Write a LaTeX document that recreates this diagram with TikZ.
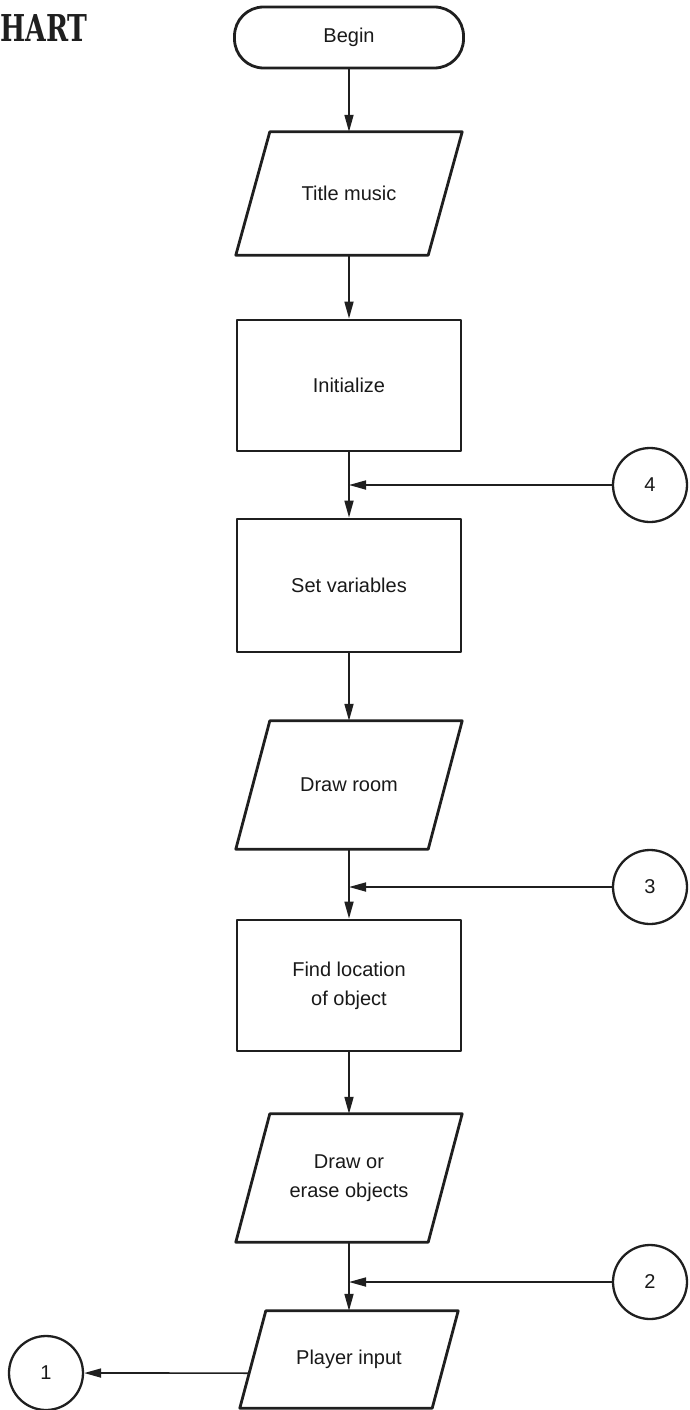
\documentclass[tikz,border=0pt]{standalone}
\usepackage{graphicx}
\usepackage{fontspec}
\setmainfont{Liberation Sans}
\newfontfamily\headfont{DejaVu Serif}
\usetikzlibrary{calc,arrows.meta}

% slanted input/output frame around an (undrawn) node: #1 node name, #2 half of the slant
\newcommand{\slantframe}[2]{%
  \coordinate (#1-tl) at ($(#1.north west)+(#2,0)$);
  \coordinate (#1-tr) at ($(#1.north east)+(#2,0)$);
  \coordinate (#1-br) at ($(#1.south east)+(-#2,0)$);
  \coordinate (#1-bl) at ($(#1.south west)+(-#2,0)$);
  \draw[boxline] (#1-tl) -- (#1-tr) -- (#1-br) -- (#1-bl) -- cycle;}

\begin{document}
\begin{tikzpicture}[x=1pt,y=-1pt,
  boxline/.style={draw=black!88, line width=2.8pt, line join=round},
  label/.style={font=\fontsize{20}{29}\selectfont, text=black!90, align=center, inner sep=0pt},
  procbox/.style={boxline, label, minimum width=224pt},
  iobox/.style={label, minimum width=192pt},
  termbox/.style={boxline, label, rounded corners=29pt, minimum width=229pt, minimum height=61pt},
  offpage/.style={draw=black!88, line width=2.3pt, circle, minimum size=74pt, inner sep=0pt,
    font=\fontsize{20}{24}\selectfont, text=black!90},
  flow/.style={draw=black!88, line width=1.7pt, -{Triangle[length=17pt,width=9pt]}},
]
\useasboundingbox (0,0) rectangle (690,1410);

% heading
\node[anchor=base west, inner sep=0pt, text=black!88] (head) at (0,42)
  {\headfont\fontsize{37}{37}\selectfont\scalebox{0.72}[1]{\bfseries HART}};

% main column
\node[termbox] (begin) at (349,37.5) {Begin};
\node[iobox, minimum height=123pt] (tm) at (349,193.5) {Title music};
\slantframe{tm}{17}
\node[procbox, minimum height=131pt] (init) at (349,385.5) {Initialize};
\node[procbox, minimum height=133pt] (setv) at (349,585.5) {Set variables};
\node[iobox, minimum height=128pt] (dr) at (349,785) {Draw room};
\slantframe{dr}{17}
\node[procbox, minimum height=131pt] (find) at (349,985.5) {Find location\\of object};
\node[iobox, minimum height=128pt] (de) at (349,1178) {Draw or\\erase objects};
\slantframe{de}{17}
\node[iobox, minimum height=97pt] (pi) at (349,1359.5) {Player input};
\slantframe{pi}{13}

% connectors
\node[offpage] (c4) at (650,485) {4};
\node[offpage] (c3) at (650,887) {3};
\node[offpage] (c2) at (650,1282) {2};
\node[offpage] (c1) at (46,1373) {1};

% flow lines
\draw[flow] (begin.south) -- (tm.north);
\draw[flow] (tm.south) -- (init.north);
\draw[flow] (init.south) -- (setv.north);
\draw[flow] (setv.south) -- (dr.north);
\draw[flow] (dr.south) -- (find.north);
\draw[flow] (find.south) -- (de.north);
\draw[flow] (de.south) -- (pi.north);

% re-entry points
\draw[flow] (c4) -- (c4 -| init.south);
\draw[flow] (c3) -- (c3 -| dr.south);
\draw[flow] (c2) -- (c2 -| de.south);

% exit from player input
\coordinate (pi-out) at ($(pi-tl)!0.64!(pi-bl)$);
\draw[flow] (pi-out) -- (c1);
\end{tikzpicture}
\end{document}
